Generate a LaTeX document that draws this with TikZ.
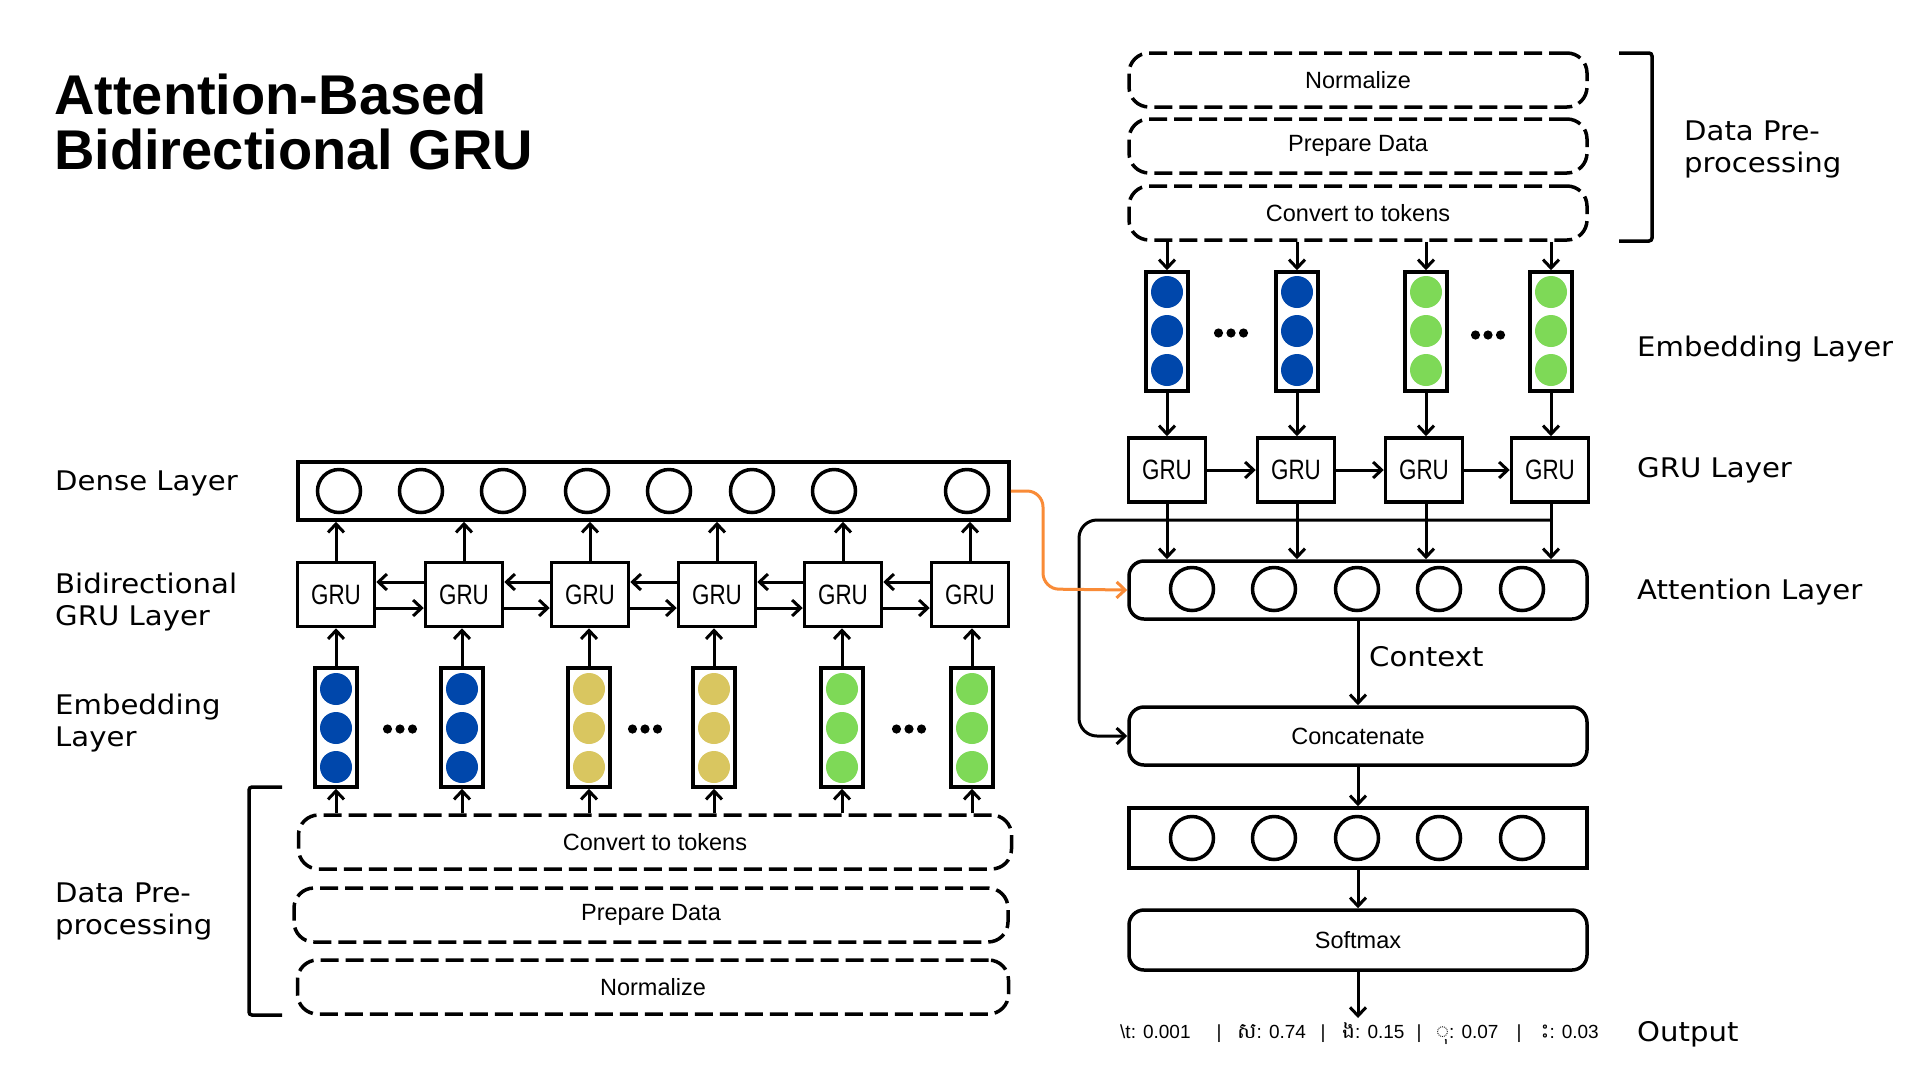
\documentclass[tikz,border=0pt]{standalone}
\usepackage{fontspec}
\setmainfont{Liberation Sans}
\newfontfamily\labfont[FakeStretch=1.08]{DejaVu Sans}
\newfontfamily\boxfont{Liberation Sans}
\newfontfamily\grufont[FakeStretch=0.8]{Liberation Sans}
\newfontfamily\titfont{Liberation Sans}
\newfontfamily\outfont{Liberation Sans}
\newfontfamily\khfont[Script=Khmer,Scale=1.15]{Battambang}
\usetikzlibrary{arrows.meta,calc}
\definecolor{eblue}{HTML}{0047AB}
\definecolor{eyellow}{HTML}{D9C660}
\definecolor{egreen}{HTML}{7ED957}
\definecolor{orng}{HTML}{F98B37}
\begin{document}
\begin{tikzpicture}[x=1pt,y=-1pt,
  lab/.style={font=\labfont\fontsize{27}{32}\selectfont, align=left, inner sep=0pt},
  dbox/.style={draw, line width=3.5pt, dash pattern=on 18pt off 7pt, rounded corners=20pt,
    minimum height=54pt, inner sep=0pt, font=\boxfont\fontsize{23.5}{28}\selectfont},
  rbox/.style={draw, line width=3.5pt, rounded corners=15pt, minimum width=458pt,
    minimum height=58pt, inner sep=0pt, font=\boxfont\fontsize{23.5}{28}\selectfont},
  layerbox/.style={draw, line width=3.5pt, inner sep=0pt},
  grubox/.style={draw, line width=3.5pt, minimum width=77pt, minimum height=64pt,
    inner sep=0pt, font=\grufont\fontsize{28}{30}\selectfont},
  embbox/.style={draw, line width=3.5pt, minimum width=42pt, minimum height=119pt, inner sep=0pt},
  neuron/.style={draw, circle, line width=3.5pt, minimum size=43pt, inner sep=0pt},
  ball/.style={circle, inner sep=0pt, minimum size=32pt},
  arr/.style={line width=3pt, -{Straight Barb[length=8.5pt,width=16pt]}},
  outtxt/.style={font=\outfont\fontsize{19}{22}\selectfont, inner sep=0pt, anchor=base west},
]
\fill[white] (0,0) rectangle (1920,1080);
\useasboundingbox (0,0) rectangle (1920,1080);

% ---------------- title
\node[anchor=base west, inner sep=0pt, font=\titfont\bfseries\fontsize{56}{55}\selectfont] (title1) at (54,114) {Attention-Based};
\node[anchor=base west, inner sep=0pt, font=\titfont\bfseries\fontsize{56}{55}\selectfont] (title2) at (54,169) {Bidirectional GRU};

% ---------------- left labels
\node[lab, anchor=base west] (lDense) at (55,490) {Dense Layer};
\node[lab, anchor=west] (lBi) at (55,602) {Bidirectional\\GRU Layer};
\node[lab, anchor=west] (lEmb) at (55,723) {Embedding\\Layer};
\node[lab, anchor=west] (lPre) at (55,911) {Data Pre-\\processing};

% ---------------- left data preprocessing
\node[dbox, minimum width=713pt] (convL) at (655,842) {Convert to tokens};
\node[dbox, minimum width=714pt] (prepL) at (651,915) {Prepare Data};
\node[dbox, minimum width=711pt] (normL) at (653,987) {Normalize};
\draw[line width=3.5pt, rounded corners=3pt] (282,787) -- (249,787) -- (249,1015) -- (282,1015);

% ---------------- left embeddings
\foreach \i/\x/\c in {1/336/eblue,2/462/eblue,3/589/eyellow,4/714/eyellow,5/842/egreen,6/972/egreen}{
  \node[embbox] (el\i) at (\x,727.5) {};
  \foreach \j/\y in {1/689,2/728,3/767}
    \node[ball, fill=\c] (el\i c\j) at (\x,\y) {};
  \draw[arr] (el\i.south |- convL.north) -- (el\i.south);
}
\foreach \x in {400,645,909}
  \foreach \k in {-12.5,0,12.5}
    \fill (\x+\k,729) circle (4.6pt);

% ---------------- left GRU
\foreach \i/\x in {1/336,2/464,3/590,4/717,5/843,6/970}
  \node[grubox] (gl\i) at (\x,594.5) {GRU};
\foreach \a/\b in {1/2,2/3,3/4,4/5,5/6}{
  \draw[arr] (gl\b.west |- 0,582) -- (gl\a.east |- 0,582);
  \draw[arr] (gl\a.east |- 0,608) -- (gl\b.west |- 0,608);
}
\foreach \i in {1,...,6}
  \draw[arr] (el\i.north) -- (el\i.north |- gl\i.south);

% ---------------- left dense
\node[layerbox, minimum width=711pt, minimum height=58pt] (denseL) at (653.5,491) {};
\foreach \i/\x in {1/339,2/421,3/503,4/587,5/669,6/752,7/834,8/967}
  \node[neuron] (dl\i) at (\x,491) {};
\foreach \i in {1,...,6}
  \draw[arr] (gl\i.north) -- (gl\i.north |- denseL.south);

% ---------------- right data preprocessing
\node[dbox, minimum width=458pt] (normR) at (1358,80) {Normalize};
\node[dbox, minimum width=458pt] (prepR) at (1358,146) {Prepare Data};
\node[dbox, minimum width=458pt] (convR) at (1358,213) {Convert to tokens};
\draw[line width=3.5pt, rounded corners=3pt] (1619,53) -- (1652,53) -- (1652,241) -- (1619,241);
\node[lab, anchor=west] (rPre) at (1684,149) {Data Pre-\\processing};

% ---------------- right embeddings
\foreach \i/\x/\c in {1/1167/eblue,2/1297/eblue,3/1426/egreen,4/1551/egreen}{
  \node[embbox] (er\i) at (\x,331.5) {};
  \foreach \j/\y in {1/292,2/331,3/370}
    \node[ball, fill=\c] (er\i c\j) at (\x,\y) {};
  \draw[arr] (er\i.north |- convR.south) -- (er\i.north);
}
\foreach \x/\y in {1231/333,1488/335}
  \foreach \k in {-12.5,0,12.5}
    \fill (\x+\k,\y) circle (4.6pt);
\node[lab, anchor=base west] (rEmb) at (1637,356) {Embedding Layer};

% ---------------- right GRU
\foreach \i/\x in {1/1167,2/1296,3/1424,4/1550}
  \node[grubox] (gr\i) at (\x,470) {GRU};
\foreach \a/\b in {1/2,2/3,3/4}
  \draw[arr] (gr\a.east) -- (gr\b.west);
\foreach \i in {1,...,4}
  \draw[arr] (er\i.south) -- (er\i.south |- gr\i.north);
\node[lab, anchor=base west] (rGru) at (1637,477) {GRU Layer};

% ---------------- attention
\node[rbox] (attn) at (1358,590) {};
\foreach \i/\x in {1/1192,2/1274,3/1357,4/1439,5/1522}
  \node[neuron] (an\i) at (\x,589) {};
\node[lab, anchor=base west] (rAttn) at (1637,599) {Attention Layer};
\foreach \i in {1,...,4}
  \draw[arr] (er\i.south |- gr\i.south) -- (er\i.south |- attn.north);

% loop to concatenate
\node[rbox] (concat) at (1358,736) {Concatenate};
\coordinate (junc) at (er4.south |- 0,520);
\draw[arr, rounded corners=18pt] (junc) -- (1079,520) -- (1079,736) -- (concat.west);

% orange connector
\draw[line width=3pt, orng, rounded corners=16pt, -{Straight Barb[length=8.5pt,width=16pt]}]
  (denseL.east) -- (1043,491) -- (1043,589) -- (attn.west);

% context
\draw[arr] (attn.south) -- (concat.north);
\node[lab, anchor=west] (ctx) at (1369,657) {Context};

% dense 2
\node[layerbox, minimum width=458pt, minimum height=60pt] (dense2) at (1358,838) {};
\foreach \i/\x in {1/1192,2/1274,3/1357,4/1439,5/1522}
  \node[neuron] (dn\i) at (\x,838) {};
\draw[arr] (concat.south) -- (dense2.north);

% softmax
\node[rbox, minimum height=60pt] (softmax) at (1358,940) {Softmax};
\draw[arr] (dense2.south) -- (softmax.north);
\coordinate (outtip) at (1358,1018);
\draw[arr] (softmax.south) -- (outtip);

% output row
\node[outtxt] (o1) at (1120,1038) {\textbackslash t: 0.001};
\node[outtxt, anchor=base] (s1) at (1219,1038) {|};
\node[outtxt] (o2) at (1237,1038) {{\khfont ស}: 0.74};
\node[outtxt, anchor=base] (s2) at (1323,1038) {|};
\node[outtxt] (o3) at (1342,1038) {{\khfont ង}: 0.15};
\node[outtxt, anchor=base] (s3) at (1419,1038) {|};
\node[outtxt] (o4) at (1436,1038) {{\khfont ◌ុ}: 0.07};
\node[outtxt, anchor=base] (s4) at (1519,1038) {|};
\node[outtxt] (o5) at (1533,1038) {{\khfont ^^^^00a0ះ}: 0.03};
\node[lab, anchor=base west] (rOut) at (1637,1041) {Output};
\end{tikzpicture}
\end{document}
